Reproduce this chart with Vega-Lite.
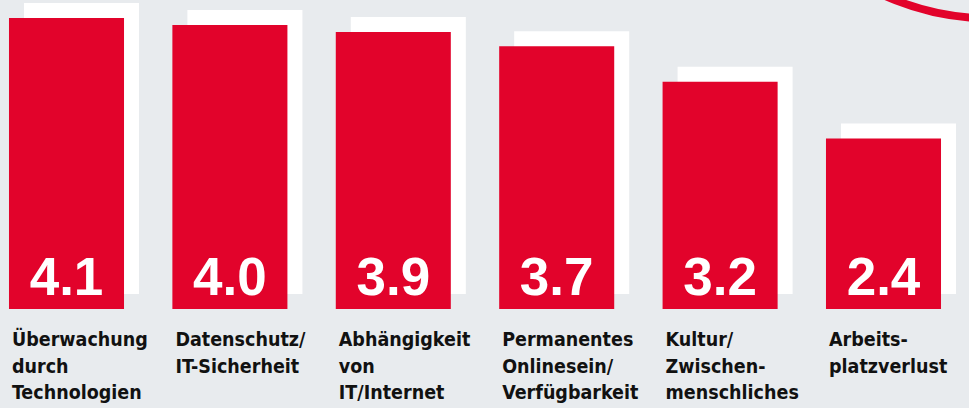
{
  "$schema": "https://vega.github.io/schema/vega-lite/v6.json",
  "width": 950,
  "height": 309,
  "autosize": {"type": "none"},
  "padding": {"top": 0, "left": 0, "right": 19, "bottom": 99},
  "background": "#e8ebee",
  "config": {"view": {"stroke": null}, "axis": {"labels": false, "ticks": false, "domain": false, "grid": false, "title": null}},
  "datasets": {
    "bars": [
      {"label": "Überwachung|durch|Technologien", "value": 4.1},
      {"label": "Datenschutz/|IT-Sicherheit", "value": 4.0},
      {"label": "Abhängigkeit|von|IT/Internet", "value": 3.9},
      {"label": "Permanentes|Onlinesein/|Verfügbarkeit", "value": 3.7},
      {"label": "Kultur/|Zwischen-|menschliches", "value": 3.2},
      {"label": "Arbeits-|platzverlust", "value": 2.4}
    ],
    "ring": [{"cx": 104.2, "cy": 7.7}]
  },
  "resolve": {"scale": {"x": "independent"}},
  "layer": [
    {
      "data": {"name": "bars"},
      "encoding": {
        "x": {"field": "label", "type": "nominal", "sort": null, "scale": {"paddingInner": 0.296, "paddingOuter": 0.055}}
      },
      "layer": [
        {
          "mark": {"type": "bar", "color": "#ffffff", "xOffset": 15, "x2Offset": 15, "yOffset": -15, "y2Offset": -15},
          "encoding": {
            "y": {"field": "value", "type": "quantitative", "scale": {"domain": [0, 4.352], "nice": false}}
          }
        },
        {
          "mark": {"type": "bar", "color": "#e2032b"},
          "encoding": {
            "y": {"field": "value", "type": "quantitative"}
          }
        },
        {
          "mark": {"type": "text", "color": "#ffffff", "font": "Liberation Sans", "fontWeight": "bold", "fontSize": 53, "align": "center", "baseline": "alphabetic", "dy": -14},
          "encoding": {
            "y": {"datum": 0, "type": "quantitative"},
            "text": {"field": "value", "type": "quantitative", "format": ".1f"}
          }
        },
        {
          "mark": {"type": "text", "color": "#111111", "font": "DejaVu Sans Condensed", "fontWeight": "bold", "fontSize": 19.5, "align": "left", "baseline": "alphabetic", "dy": 37, "dx": 3, "lineBreak": "|", "lineHeight": 26.5},
          "encoding": {
            "x": {"field": "label", "type": "nominal", "sort": null, "bandPosition": 0},
            "y": {"datum": 0, "type": "quantitative"},
            "text": {"field": "label", "type": "nominal"}
          }
        }
      ]
    },
    {
      "data": {"name": "ring"},
      "mark": {"type": "point", "shape": "circle", "filled": false, "stroke": "#e2032b", "strokeWidth": 8, "opacity": 1, "size": 262144},
      "encoding": {
        "x": {"field": "cx", "type": "quantitative", "scale": {"domain": [0, 100], "nice": false, "zero": false}},
        "y": {"field": "cy", "type": "quantitative"}
      }
    }
  ]
}
